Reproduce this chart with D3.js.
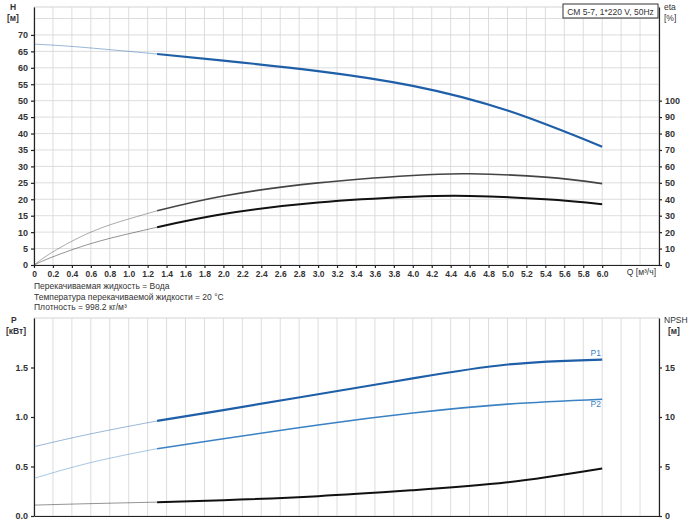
<!DOCTYPE html>
<html>
<head>
<script src="https://d3js.org/d3.v7.min.js"></script>
<style>
  body { margin: 0; background: #fff; font-family: Arial, "Liberation Sans", sans-serif; }
  svg text { font-family: Arial, "Liberation Sans", sans-serif; }
</style>
</head>
<body>
<svg id="chart" width="700" height="525"></svg>
<script>
// Flow points, m3/h
const qHead = [0, 0.4, 1.0, 1.3, 2.0, 3.0, 4.0, 5.0, 6.0];
const head = [67.2, 66.5, 65.0, 64.2, 62.2, 59.0, 54.5, 47.0, 36.0];
const qEta = [0, 0.2, 0.6, 1.0, 1.3, 2.0, 3.0, 4.0, 4.6, 5.4, 6.0];
const etaTotal = [0, 8, 20, 28, 33, 42, 50, 54.5, 55.5, 53.5, 49.5];
const etaPump = [0, 5, 13, 19, 23, 31, 38, 41.5, 42, 40, 37];
const qPow = [0, 0.6, 1.3, 2.0, 3.0, 4.0, 5.0, 6.0];
const p1 = [0.70, 0.83, 0.96, 1.07, 1.23, 1.39, 1.53, 1.58];
const p2 = [0.38, 0.54, 0.68, 0.78, 0.92, 1.04, 1.13, 1.18];
const npsh = [1.1, 1.25, 1.4, 1.6, 2.0, 2.6, 3.4, 4.8];
const qSplit = 1.3;
const infoLines = [
  "Перекачиваемая жидкость = Вода",
  "Температура перекачиваемой жидкости = 20 °C",
  "Плотность = 998.2 кг/м³"
];

const svg = d3.select('#chart');
const x = d3.scaleLinear().domain([0, 6.6]).range([34, 659]);
const yH = d3.scaleLinear().domain([0, 78.5]).range([265, 7]);
const yEta = d3.scaleLinear().domain([0, 157]).range([265, 7]);
const yP = d3.scaleLinear().domain([0, 2.0]).range([516, 318]);
const yN = d3.scaleLinear().domain([0, 20]).range([516, 318]);
const gridColor = '#d4d4d4';

function panelGrid(yScale, yTicks) {
  const g = svg.append('g');
  g.selectAll('line.v').data(d3.range(1, 33).map(i => i * 0.2)).join('line')
    .attr('x1', d => x(d)).attr('x2', d => x(d))
    .attr('y1', yScale.range()[0]).attr('y2', yScale.range()[1])
    .attr('stroke', gridColor).attr('stroke-width', 0.8);
  g.selectAll('line.h').data(yTicks).join('line')
    .attr('x1', x(0)).attr('x2', x(6.6))
    .attr('y1', d => yScale(d)).attr('y2', d => yScale(d))
    .attr('stroke', gridColor).attr('stroke-width', 0.8);
  g.append('rect').attr('x', x(0)).attr('y', yScale.range()[1])
    .attr('width', x(6.6) - x(0)).attr('height', yScale.range()[0] - yScale.range()[1])
    .attr('fill', 'none').attr('stroke', gridColor);
}
panelGrid(yH, d3.range(5, 80, 5));
panelGrid(yP, []);

function axisStyle(g) {
  g.selectAll('text').attr('font-size', 9).attr('font-weight', 'bold').attr('fill', '#333');
  g.selectAll('path, line').attr('stroke', '#222').attr('stroke-width', 1.2);
}
svg.append('g').attr('transform', 'translate(34,0)')
  .call(d3.axisLeft(yH).tickValues(d3.range(0, 75, 5)).tickSize(3).tickSizeOuter(0)).call(axisStyle);
svg.append('g').attr('transform', 'translate(659,0)')
  .call(d3.axisRight(yEta).tickValues(d3.range(0, 110, 10)).tickSize(3).tickSizeOuter(0)).call(axisStyle);
svg.append('g').attr('transform', 'translate(0,265)')
  .call(d3.axisBottom(x).tickValues(d3.range(0, 31).map(i => i * 0.2))
    .tickFormat(d => d === 0 ? '0' : d3.format('.1f')(d)).tickSize(3).tickSizeOuter(0)).call(axisStyle)
  .selectAll('text').attr('font-size', 8.5);
svg.append('g').attr('transform', 'translate(34,0)')
  .call(d3.axisLeft(yP).tickValues([0, 0.5, 1.0, 1.5]).tickFormat(d3.format('.1f')).tickSize(3).tickSizeOuter(0)).call(axisStyle);
svg.append('g').attr('transform', 'translate(659,0)')
  .call(d3.axisRight(yN).tickValues([0, 5, 10, 15]).tickSize(3).tickSizeOuter(0)).call(axisStyle);
svg.append('g').attr('transform', 'translate(0,516)')
  .call(d3.axisBottom(x).tickValues([]).tickSizeOuter(0)).call(axisStyle);

function curve(qs, vs, yScale, color, width) {
  const pts = qs.map((q, i) => [q, vs[i]]);
  const line = d3.line().x(d => x(d[0])).y(d => yScale(d[1])).curve(d3.curveNatural);
  const faint = pts.filter(d => d[0] <= qSplit);
  const strong = pts.filter(d => d[0] >= qSplit);
  svg.append('path').attr('d', line(faint)).attr('fill', 'none')
    .attr('stroke', color).attr('stroke-opacity', 0.45).attr('stroke-width', 1);
  svg.append('path').attr('d', line(strong)).attr('fill', 'none')
    .attr('stroke', color).attr('stroke-width', width);
}
curve(qHead, head, yH, '#1f5fa8', 2.2);
curve(qEta, etaTotal, yEta, '#444', 1.6);
curve(qEta, etaPump, yEta, '#111', 2);
curve(qPow, p1, yP, '#1f5fa8', 2.2);
curve(qPow, p2, yP, '#3a82c4', 1.6);
curve(qPow, npsh, yN, '#111', 2);

const txt = (t, px, py, opts = {}) => svg.append('text').attr('x', px).attr('y', py)
  .attr('font-size', opts.size || 8.5).attr('font-weight', opts.bold ? 'bold' : 'normal')
  .attr('fill', opts.fill || '#333').attr('text-anchor', opts.anchor || 'start').text(t);

txt('H', 10, 10, {bold: true}); txt('[м]', 7, 21, {bold: true});
txt('eta', 664, 10); txt('[%]', 664, 21);
txt('P', 11, 323, {bold: true}); txt('[кВт]', 6, 334, {bold: true});
txt('NPSH', 664, 323); txt('[м]', 668, 334, {bold: true});
txt('Q [м³/ч]', 656, 275, {anchor: 'end'});
infoLines.forEach((t, i) => txt(t, 34, 289 + i * 10.5));
txt('P1', 601, 356, {fill: '#3a82c4', anchor: 'end'});
txt('P2', 601, 407, {fill: '#3a82c4', anchor: 'end'});

svg.append('rect').attr('x', 563).attr('y', 4).attr('width', 95).attr('height', 14)
  .attr('fill', '#fff').attr('stroke', '#333');
txt('CM 5-7, 1*220 V, 50Hz', 610.5, 14.5, {anchor: 'middle'});
</script>
</body>
</html>
